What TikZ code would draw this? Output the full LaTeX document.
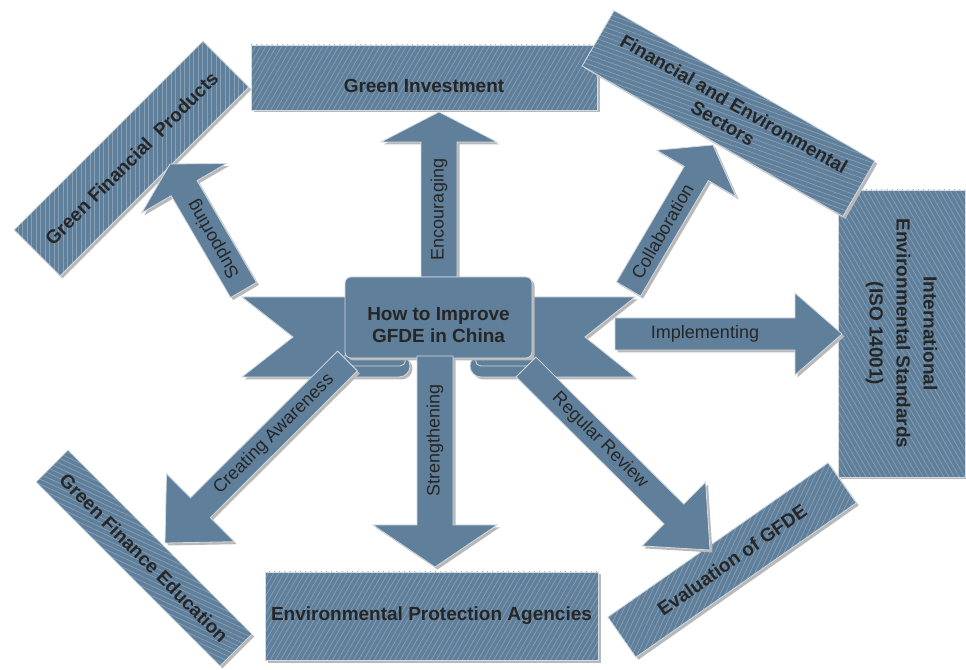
\documentclass[tikz,border=0pt]{standalone}
\usepackage{fontspec}
\setmainfont{Liberation Sans}
\usetikzlibrary{calc}
\usetikzlibrary{shadows}
\usetikzlibrary{patterns.meta}
\definecolor{steelblue}{HTML}{5F7F9B}
\definecolor{hatchblue}{HTML}{86A0B5}
\definecolor{rimgray}{HTML}{D3DAE1}
\tikzset{
	shadowstyle/.style={drop shadow={shadow xshift=2.5pt,shadow yshift=-2.5pt,fill=black!28,opacity=1}},
	boxstyle/.style={rectangle,shadowstyle,preaction={fill=steelblue},draw=rimgray,line width=0.8pt,inner sep=0pt,align=center,text=black!85,font=\bfseries\fontsize{19}{22}\selectfont},
	hatch/.style={pattern={Lines[angle=#1,distance=4.5pt,line width=0.7pt]},pattern color=hatchblue},
	ribbonstyle/.style={shadowstyle,fill=steelblue,draw=rimgray,line width=0.8pt},
	arrowstyle/.style={shadowstyle,fill=steelblue,draw=rimgray,line width=0.8pt,line join=miter},
	labelstyle/.style={inner sep=0pt,text=black!85,font=\fontsize{18}{20}\selectfont}
}
% fat arrow: tail, tip, half shaft, half head, head length, label, label angle
\newcommand{\fatarrow}[7]{%
	\coordinate (hb) at ($(#2)!#5!(#1)$);
	\filldraw[arrowstyle] ($(#1)!#3!-90:(#2)$) -- ($(hb)!#3!-90:(#2)$) -- ($(hb)!#4!-90:(#2)$) -- (#2)
		-- ($(hb)!#4!90:(#2)$) -- ($(hb)!#3!90:(#2)$) -- ($(#1)!#3!90:(#2)$) -- cycle;
	\node[labelstyle,rotate=#7] at ($(#1)!0.5!(hb)$) {#6};
}
\begin{document}
\begin{tikzpicture}[x=1pt,y=1pt]
		\useasboundingbox (0,0) rectangle (966,669);
		% outer boxes
		\node[boxstyle,hatch=90,rotate=45,minimum width=267pt,minimum height=65pt] (gfp) at (131.5,510.5) {Green Financial\ \ Products};
		\node[boxstyle,hatch=60,minimum width=346pt,minimum height=65pt,text height=35pt,text depth=4pt] (gi) at (424,591.5) {Green Investment};
		\node[boxstyle,hatch=120,rotate=-90,minimum width=287pt,minimum height=127pt,font=\bfseries\fontsize{19}{27}\selectfont] (ies) at (901.5,335.5) {International\\Environmental Standards\\(ISO 14001)};
		\node[boxstyle,hatch=-20,rotate=-30,minimum width=301pt,minimum height=64pt] (fes) at (728.5,555.5) {Financial and Environmental\\Sectors};
		\node[boxstyle,hatch=65,rotate=35,minimum width=269pt,minimum height=49pt] (eval) at (732,109) {Evaluation of GFDE};
		\node[boxstyle,hatch=60,minimum width=333pt,minimum height=88pt] (epa) at (431.5,53) {Environmental Protection Agencies};
		\node[boxstyle,hatch=-25,rotate=-45,minimum width=260pt,minimum height=45pt] (gfe) at (144,111) {Green Finance Education};
		% arrow ends
		\coordinate (encTail) at (439,392);
		\coordinate (encTip) at (439,557);
		\coordinate (supTail) at (243.5,379);
		\coordinate (supTip) at (170,505);
		\coordinate (colTail) at (628.5,380);
		\coordinate (colTip) at (713,524);
		\coordinate (impTail) at (615,335);
		\coordinate (impTip) at (842,335);
		\coordinate (strTail) at (435,313);
		\coordinate (strTip) at (435,102);
		\coordinate (revTail) at (526,302);
		\coordinate (revTip) at (710,119);
		\coordinate (awaTail) at (347.5,308);
		\coordinate (awaTip) at (165,126);
		% arrows behind the banner
		\fatarrow{encTail}{encTip}{18pt}{58pt}{30pt}{Encouraging}{90}
		\fatarrow{supTail}{supTip}{15pt}{49pt}{28pt}{Supporting}{120}
		\fatarrow{colTail}{colTip}{14pt}{46pt}{33pt}{Collaboration}{60}
		% banner
		\filldraw[ribbonstyle] (242,372) -- (350,372) -- (350,292) -- (242,292) -- (293,332) -- cycle;
		\filldraw[ribbonstyle] (635,372) -- (525,372) -- (525,292) -- (635,292) -- (585,332) -- cycle;
		\filldraw[ribbonstyle] (345,314) -- (399,314) arc[start angle=90,end angle=-90,radius=11] -- (345,292) -- cycle;
		\draw[rimgray,line width=0.8pt] (347,303) -- (400,303) arc[start angle=-90,end angle=0,radius=5.5];
		\filldraw[ribbonstyle] (532,314) -- (481,314) arc[start angle=90,end angle=270,radius=11] -- (532,292) -- cycle;
		\draw[rimgray,line width=0.8pt] (530,303) -- (481,303) arc[start angle=270,end angle=180,radius=5.5];
		\node[ribbonstyle,rounded corners=6pt,minimum width=187pt,minimum height=81pt] (hub) at (438.5,351.5) {};
		\node[align=center,text=black!85,font=\bfseries\fontsize{19}{22}\selectfont] (hubtext) at (438.5,344) {How to Improve\\GFDE in China};
		% arrows over the banner
		\fatarrow{impTail}{impTip}{16pt}{41pt}{47pt}{Implementing}{0}
		\fatarrow{strTail}{strTip}{18pt}{62pt}{42pt}{Strengthening}{90}
		\fatarrow{revTail}{revTip}{14pt}{45pt}{51pt}{Regular Review}{-45}
		\fatarrow{awaTail}{awaTip}{14pt}{48pt}{50pt}{Creating Awareness}{45}
\end{tikzpicture}
\end{document}
